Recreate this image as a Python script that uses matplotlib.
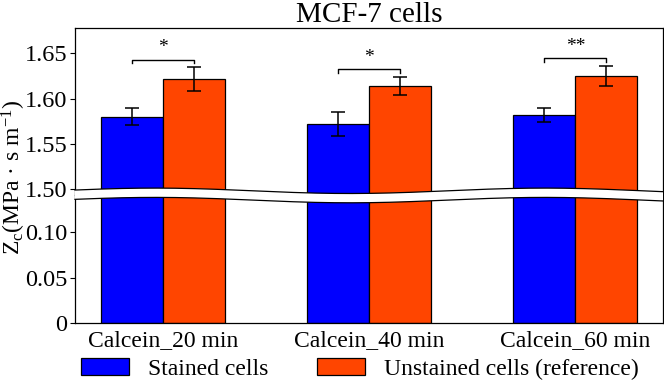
import numpy as np
import matplotlib
matplotlib.use("Agg")
import matplotlib.pyplot as plt
from matplotlib.patches import Patch, Polygon
from matplotlib.lines import Line2D

plt.rcParams['font.family'] = ['Liberation Serif', 'DejaVu Serif']
plt.rcParams['mathtext.fontset'] = 'custom'
plt.rcParams['mathtext.rm'] = 'Liberation Serif'
plt.rcParams['mathtext.it'] = 'Liberation Serif:italic'

# ---- data ----
categories = ["Calcein_20 min", "Calcein_40 min", "Calcein_60 min"]
stained = [1.580, 1.572, 1.582]
stained_err = [0.0095, 0.0135, 0.0074]
unstained = [1.622, 1.614, 1.625]
unstained_err = [0.013, 0.0103, 0.011]
sig_labels = ["*", "*", "**"]
bracket_y = [1.6427, 1.6324, 1.6446]
upper_ticks = [1.50, 1.55, 1.60, 1.65]
lower_ticks = [0, 0.05, 0.10]
lower_ticklabels = ["0", "0.05", "0.10"]
series_labels = ["Stained cells", "Unstained cells (reference)"]

blue = "#0000FF"
orange = "#FF4500"

W, H = 664, 381
fig = plt.figure(figsize=(W / 100, H / 100), dpi=100)

ax_left, ax_right = 75, 663
ax_top, ax_bot, ax_join = 28, 323, 195

def fx(px):
    return px / W

def fy(py):
    return 1 - py / H

ax_up = fig.add_axes([fx(ax_left), fy(ax_join), fx(ax_right - ax_left), (ax_join - ax_top) / H])
ax_lo = fig.add_axes([fx(ax_left), fy(ax_bot), fx(ax_right - ax_left), (ax_bot - ax_join) / H])

x = np.arange(len(categories))
bw = 0.3
for ax in (ax_up, ax_lo):
    ax.bar(x - bw / 2, stained, bw, color=blue, edgecolor='black', linewidth=0.9,
           yerr=stained_err, capsize=5, error_kw=dict(elinewidth=1.1, capthick=1.1, ecolor='black'))
    ax.bar(x + bw / 2, unstained, bw, color=orange, edgecolor='black', linewidth=0.9,
           yerr=unstained_err, capsize=5, error_kw=dict(elinewidth=1.1, capthick=1.1, ecolor='black'))
    ax.set_xlim(-0.425, 2.425)
    for s in ax.spines.values():
        s.set_linewidth(0.9)
    ax.tick_params(axis='y', labelsize=17.5, length=3.5, width=0.8, pad=2)

ax_up.set_ylim(1.4937, 1.678)
ax_up.set_yticks(upper_ticks)
ax_up.set_yticklabels([f"{t:.2f}" for t in upper_ticks])
ax_up.spines['bottom'].set_visible(False)
ax_up.set_xticks([])

ax_lo.set_ylim(0, 0.1413)
ax_lo.set_yticks(lower_ticks)
ax_lo.set_yticklabels(lower_ticklabels)
ax_lo.spines['top'].set_visible(False)
ax_lo.set_xticks(x)
ax_lo.set_xticklabels(categories)
ax_lo.tick_params(axis='x', labelsize=17, length=0, pad=5)

# significance brackets
for i, (lab, by) in enumerate(zip(sig_labels, bracket_y)):
    x0, x1 = i - bw / 2, i + bw / 2
    dy = 0.0038
    ax_up.plot([x0, x0, x1, x1], [by - dy, by, by, by - dy], color='black', lw=1.0)
    ax_up.text(i, by + 0.0085, lab, ha='center', va='baseline', fontsize=14)

ax_up.set_title("MCF-7 cells", fontsize=21, pad=3)

fig.text(fx(13.5), fy(177), r"Z$_{\mathrm{c}}$(MPa · s m$^{-1}$)", rotation=90,
         ha='center', va='center', fontsize=17)

# wavy break band
xs = np.linspace(ax_left, ax_right, 300)
upper = 190.8 - 2.7 * np.cos(2 * np.pi * (xs - 155) / 390)
lower = upper + 9.3
poly_pts = np.concatenate([np.column_stack([fx(xs), fy(upper)]),
                           np.column_stack([fx(xs[::-1]), fy(lower[::-1])])])
fig.add_artist(Polygon(poly_pts, closed=True, facecolor='white', edgecolor='none',
                       transform=fig.transFigure, zorder=10))
fig.add_artist(Line2D(fx(xs), fy(upper), color='black', lw=0.9, transform=fig.transFigure, zorder=11))
fig.add_artist(Line2D(fx(xs), fy(lower), color='black', lw=0.9, transform=fig.transFigure, zorder=11))

handles = [Patch(facecolor=blue, edgecolor='black', linewidth=0.9),
           Patch(facecolor=orange, edgecolor='black', linewidth=0.9)]
fig.legend(handles, series_labels, ncol=2, loc='lower center', bbox_to_anchor=(0.542, -0.04),
           frameon=False, fontsize=17, handlelength=2.0, handleheight=0.7,
           handletextpad=0.8, columnspacing=2.1, borderpad=0.2)

fig.savefig("out.png", dpi=100)
